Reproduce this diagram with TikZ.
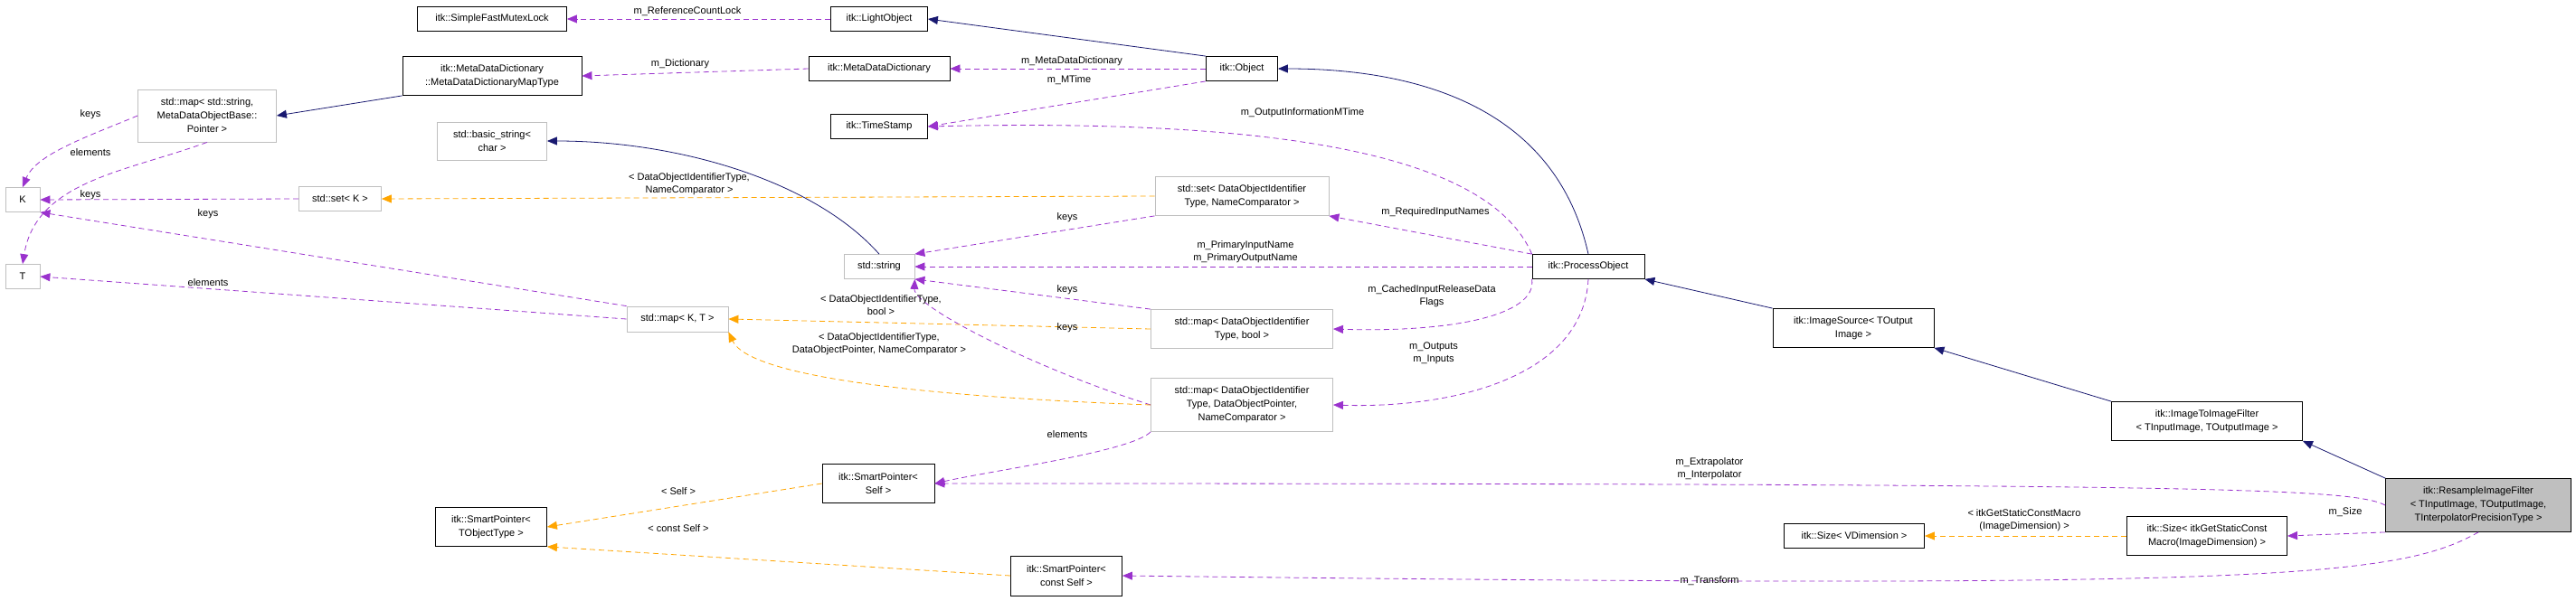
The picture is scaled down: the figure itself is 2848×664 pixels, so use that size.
\documentclass[tikz,border=0pt]{standalone}
\usepackage{fontspec}
\setmainfont{Liberation Sans}
\usetikzlibrary{arrows.meta}
\definecolor{inhc}{HTML}{191970}
\definecolor{usec}{HTML}{9A32CD}
\definecolor{tplc}{HTML}{FFA500}
\tikzset{
  cls/.style={draw=black, thick, fill=white, inner sep=2pt, align=center, font=\fontsize{11}{15}\selectfont},
  ext/.style={cls, draw=black!25},
  lbl/.style={font=\fontsize{11}{14}\selectfont, align=center, inner sep=0pt},
  inh/.style={-{Triangle[length=11pt,width=9pt,fill=inhc]}, draw=inhc, thick},
  use/.style={-{Triangle[length=11pt,width=9pt,fill=usec]}, draw=usec, thick, dash pattern=on 6pt off 4pt},
  tpl/.style={-{Triangle[length=11pt,width=9pt,fill=tplc]}, draw=tplc, thick, dash pattern=on 6pt off 4pt},
}
\begin{document}
\begin{tikzpicture}[x=1pt,y=-1pt]
\useasboundingbox (0,0) rectangle (2848,664);
% nodes
\node[cls, minimum width=165, minimum height=27] (sfml) at (544,21) {itk::SimpleFastMutexLock};
\node[cls, minimum width=107, minimum height=27] (light) at (972,21) {itk::LightObject};
\node[cls, minimum width=198, minimum height=43] (mddmt) at (544,84) {itk::MetaDataDictionary\\::MetaDataDictionaryMapType};
\node[cls, minimum width=156, minimum height=27] (mdd) at (972,76) {itk::MetaDataDictionary};
\node[ext, minimum width=153, minimum height=58] (mapstr) at (229,128) {std::map{\textless} std::string,\\MetaDataObjectBase::\\Pointer {\textgreater}};
\node[cls, minimum width=107, minimum height=27] (ts) at (972,140) {itk::TimeStamp};
\node[ext, minimum width=121, minimum height=42] (bstr) at (544,156) {std::basic\_string{\textless}\\char {\textgreater}};
\node[ext, minimum width=38, minimum height=27] (K) at (25,221) {K};
\node[ext, minimum width=91, minimum height=27] (setK) at (376,220) {std::set{\textless} K {\textgreater}};
\node[ext, minimum width=38, minimum height=27] (T) at (25,306) {T};
\node[ext, minimum width=78, minimum height=27] (str) at (972,295) {std::string};
\node[ext, minimum width=112, minimum height=28] (mapKT) at (749,353) {std::map{\textless} K, T {\textgreater}};
\node[cls, minimum width=124, minimum height=43] (spself) at (971,535) {itk::SmartPointer{\textless}\\Self {\textgreater}};
\node[cls, minimum width=123, minimum height=43] (spobj) at (543,583) {itk::SmartPointer{\textless}\\TObjectType {\textgreater}};
\node[cls, minimum width=123, minimum height=44] (spcself) at (1179,637) {itk::SmartPointer{\textless}\\const Self {\textgreater}};
\node[cls, minimum width=79, minimum height=27] (obj) at (1373,76) {itk::Object};
\node[ext, minimum width=192, minimum height=43] (setdoi) at (1373,217) {std::set{\textless} DataObjectIdentifier\\Type, NameComparator {\textgreater}};
\node[cls, minimum width=124, minimum height=27] (po) at (1756,295) {itk::ProcessObject};
\node[ext, minimum width=201, minimum height=43] (mapbool) at (1373,364) {std::map{\textless} DataObjectIdentifier\\Type, bool {\textgreater}};
\node[ext, minimum width=201, minimum height=59] (mapptr) at (1373,448) {std::map{\textless} DataObjectIdentifier\\Type, DataObjectPointer,\\NameComparator {\textgreater}};
\node[cls, minimum width=178, minimum height=43] (isrc) at (2049,363) {itk::ImageSource{\textless} TOutput\\Image {\textgreater}};
\node[cls, minimum width=211, minimum height=43] (i2i) at (2440,466) {itk::ImageToImageFilter\\{\textless} TInputImage, TOutputImage {\textgreater}};
\node[cls, fill=black!25, minimum width=205, minimum height=59] (rif) at (2740,559) {itk::ResampleImageFilter\\{\textless} TInputImage, TOutputImage,\\TInterpolatorPrecisionType {\textgreater}};
\node[cls, minimum width=155, minimum height=27] (sizeV) at (2050,593) {itk::Size{\textless} VDimension {\textgreater}};
\node[cls, minimum width=177, minimum height=43] (sizeM) at (2440,593) {itk::Size{\textless} itkGetStaticConst\\Macro(ImageDimension) {\textgreater}};
% inheritance
\draw[inh] (obj.north west) -- (light.east);
\draw[inh] (mddmt.south west) -- (mapstr.east);
\draw[inh] (str.north) .. controls (900,200) and (750,156) .. (bstr.east);
\draw[inh] (po.north) .. controls (1720,120) and (1570,76) .. (obj.east);
\draw[inh] (isrc.north west) -- (po.south east);
\draw[inh] (i2i.north west) -- (isrc.south east);
\draw[inh] (rif.north west) -- (i2i.south east);
% usage
\draw[use] (light.west) -- (sfml.east);
\draw[use] (mdd.west) -- (mddmt.east);
\draw[use] (obj.west) -- (mdd.east);
\draw[use] (obj.south west) -- (ts.east);
\draw[use] (mapstr.west) .. controls (100,150) and (40,170) .. (K.north);
\draw[use] (mapstr.south) .. controls (140,190) and (40,200) .. (T.north);
\draw[use] (setK.west) -- (K.east);
\draw[use] (mapKT.north west) -- (K.south east);
\draw[use] (mapKT.west) -- (T.east);
\draw[use] (setdoi.south west) -- (str.north east);
\draw[use] (po.north west) .. controls (1650,180) and (1450,130) .. (ts.east);
\draw[use] (po.north west) -- (setdoi.south east);
\draw[use] (po.west) -- (str.east);
\draw[use] (po.south west) .. controls (1700,350) and (1600,368) .. (mapbool.east);
\draw[use] (po.south) .. controls (1750,420) and (1600,452) .. (mapptr.east);
\draw[use] (mapbool.north west) -- (str.south east);
\draw[use] (mapptr.west) .. controls (1150,410) and (1010,340) .. (str.south east);
\draw[use] (mapptr.south west) .. controls (1250,500) and (1100,520) .. (spself.east);
\draw[use] (rif.west) .. controls (2600,540) and (2450,535) .. (spself.east);
\draw[use] (rif.south west) -- (sizeM.east);
\draw[use] (rif.south) .. controls (2650,640) and (2500,652) .. (spcself.east);
% templates
\draw[tpl] (setdoi.west) -- (setK.east);
\draw[tpl] (mapbool.west) -- (mapKT.east);
\draw[tpl] (mapptr.west) .. controls (1050,440) and (830,420) .. (mapKT.south east);
\draw[tpl] (sizeM.west) -- (sizeV.east);
\draw[tpl] (spself.west) -- (spobj.east);
\draw[tpl] (spcself.west) -- (spobj.south east);
% labels
\node[lbl] at (760,13) {m\_ReferenceCountLock};
\node[lbl] at (752,71) {m\_Dictionary};
\node[lbl] at (1185,68) {m\_MetaDataDictionary};
\node[lbl] at (1182,89) {m\_MTime};
\node[lbl] at (1440,125) {m\_OutputInformationMTime};
\node[lbl] at (100,127) {keys};
\node[lbl] at (100,169) {elements};
\node[lbl] at (100,216) {keys};
\node[lbl] at (230,237) {keys};
\node[lbl] at (230,313) {elements};
\node[lbl] at (762,204) {{\textless} DataObjectIdentifierType,\\NameComparator {\textgreater}};
\node[lbl] at (1180,241) {keys};
\node[lbl] at (1587,235) {m\_RequiredInputNames};
\node[lbl] at (1377,279) {m\_PrimaryInputName\\m\_PrimaryOutputName};
\node[lbl] at (1180,321) {keys};
\node[lbl] at (1583,328) {m\_CachedInputReleaseData\\Flags};
\node[lbl] at (1585,391) {m\_Outputs\\m\_Inputs};
\node[lbl] at (974,338) {{\textless} DataObjectIdentifierType,\\bool {\textgreater}};
\node[lbl] at (1180,363) {keys};
\node[lbl] at (972,381) {{\textless} DataObjectIdentifierType,\\DataObjectPointer, NameComparator {\textgreater}};
\node[lbl] at (1180,481) {elements};
\node[lbl] at (1890,519) {m\_Extrapolator\\m\_Interpolator};
\node[lbl] at (2593,567) {m\_Size};
\node[lbl] at (2238,576) {{\textless} itkGetStaticConstMacro\\(ImageDimension) {\textgreater}};
\node[lbl] at (1890,643) {m\_Transform};
\node[lbl] at (750,544) {{\textless} Self {\textgreater}};
\node[lbl] at (750,585) {{\textless} const Self {\textgreater}};
\end{tikzpicture}
\end{document}
